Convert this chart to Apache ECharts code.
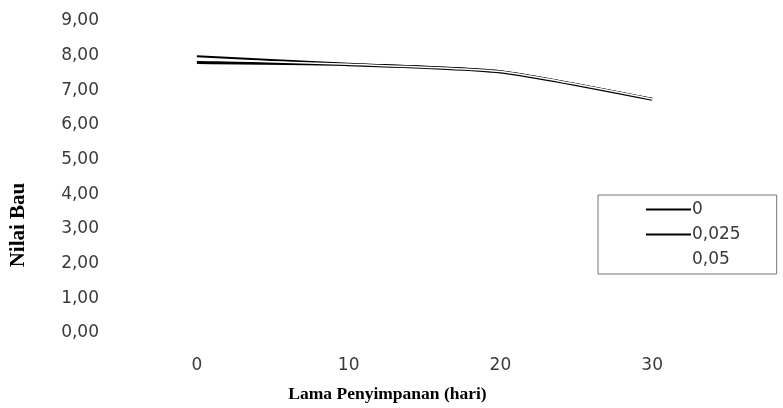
<!DOCTYPE html>
<html>
<head>
<meta charset="utf-8">
<script src="https://cdn.jsdelivr.net/npm/echarts@6/dist/echarts.min.js"></script>
<style>html,body{margin:0;padding:0;background:#fff}#c{width:783px;height:408px}</style>
</head>
<body>
<div id="c"></div>
<script>
var categories = ['0', '10', '20', '30'];
var yTicks = [0, 1, 2, 3, 4, 5, 6, 7, 8, 9];
var series0 = [7.98, 7.77, 7.55, 6.75];
var series025 = [7.80, 7.74, 7.53, 6.74];
var series05 = [7.89, 7.75, 7.54, 6.75];
var seriesNames = ['0', '0,025', '0,05'];

var tickFont = { fontFamily: 'DejaVu Sans', fontSize: 17, color: '#3a3a3a' };

var chart = echarts.init(document.getElementById('c'));
chart.setOption({
  backgroundColor: '#fff',
  animation: false,
  grid: { left: 120, right: 55, top: 21, bottom: 68 },
  xAxis: {
    type: 'category',
    data: categories,
    boundaryGap: true,
    axisLine: { show: false },
    axisTick: { show: false },
    axisLabel: Object.assign({ margin: 24 }, tickFont),
    name: 'Lama Penyimpanan (hari)',
    nameLocation: 'middle',
    nameGap: 52,
    nameTextStyle: { fontFamily: 'Liberation Serif', fontWeight: 'bold', fontSize: 17.5, color: '#000', padding: [0, 74, 0, 0] }
  },
  yAxis: {
    type: 'value',
    min: yTicks[0],
    max: yTicks[yTicks.length - 1],
    interval: 1,
    splitLine: { show: false },
    axisLine: { show: false },
    axisTick: { show: false },
    axisLabel: Object.assign({
      margin: 22,
      formatter: function (v) { return v.toFixed(2).replace('.', ','); }
    }, tickFont),
    name: 'Nilai Bau',
    nameLocation: 'middle',
    nameGap: 92,
    nameTextStyle: { fontFamily: 'Liberation Serif', fontWeight: 'bold', fontSize: 21, color: '#000', padding: [0, 96, 0, 0] }
  },
  legend: {
    orient: 'vertical',
    left: 598,
    top: 195,
    padding: [6, 36, 6, 47],
    itemGap: 8,
    itemWidth: 45,
    itemHeight: 1,
    borderColor: '#777',
    borderWidth: 1,
    textStyle: Object.assign({ padding: [0, 0, 0, -4] }, tickFont),
    data: seriesNames
  },
  series: [
    { name: seriesNames[0], type: 'line', data: series0, symbol: 'none', smooth: 0.2, lineStyle: { color: '#000', width: 2 }, itemStyle: { color: '#000' } },
    { name: seriesNames[1], type: 'line', data: series025, symbol: 'none', smooth: 0.2, lineStyle: { color: '#000', width: 3 }, itemStyle: { color: '#000' } },
    { name: seriesNames[2], type: 'line', data: series05, symbol: 'none', smooth: 0.2, lineStyle: { color: '#fff', width: 1.5 }, itemStyle: { color: '#fff' } }
  ]
});
</script>
</body>
</html>
